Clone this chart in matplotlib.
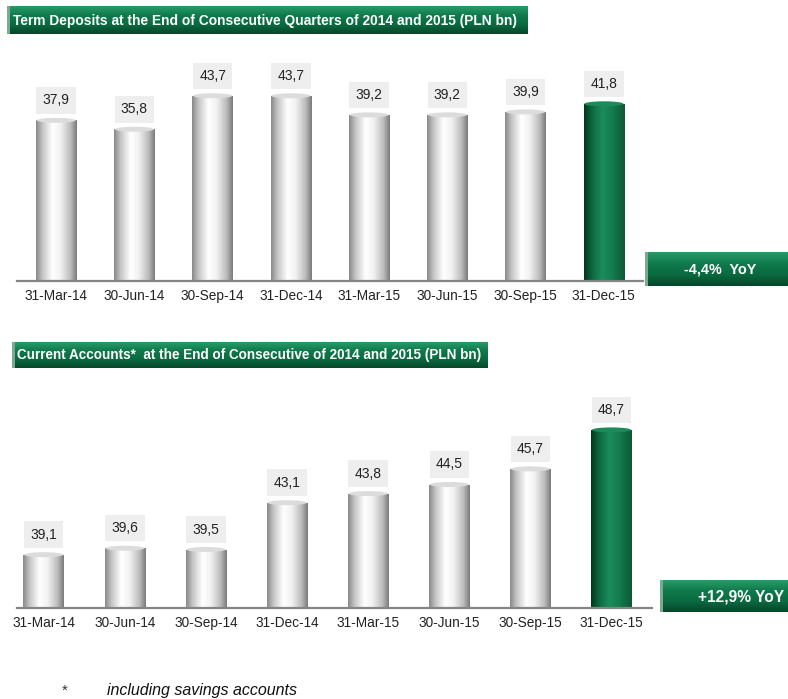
import matplotlib
matplotlib.use("Agg")
import matplotlib.pyplot as plt
import numpy as np
from matplotlib.colors import LinearSegmentedColormap
from matplotlib.patches import FancyBboxPatch, Rectangle, Ellipse

# data
dates = ["31-Mar-14", "30-Jun-14", "30-Sep-14", "31-Dec-14",
         "31-Mar-15", "30-Jun-15", "30-Sep-15", "31-Dec-15"]
term_deposits = [37.9, 35.8, 43.7, 43.7, 39.2, 39.2, 39.9, 41.8]
current_accounts = [39.1, 39.6, 39.5, 43.1, 43.8, 44.5, 45.7, 48.7]
term_title = "Term Deposits at the End of Consecutive Quarters of 2014 and 2015 (PLN bn)"
current_title = "Current Accounts*  at the End of Consecutive of 2014 and 2015 (PLN bn)"
term_yoy = "-4,4%  YoY"
current_yoy = "+12,9% YoY"
footnote = "including savings accounts"

FONT = ["Liberation Sans Narrow", "Liberation Sans", "DejaVu Sans"]
plt.rcParams["font.family"] = FONT

W, H = 788, 699
fig = plt.figure(figsize=(W / 100, H / 100), dpi=100)
renderer = fig.canvas.get_renderer()

gray_cmap = LinearSegmentedColormap.from_list("cyl_gray", [
    (0.0, "#8a8a8a"), (0.15, "#c4c4c4"), (0.4, "#ffffff"),
    (0.6, "#f2f2f2"), (0.85, "#bcbcbc"), (1.0, "#7c7c7c")])
green_cmap = LinearSegmentedColormap.from_list("cyl_green", [
    (0.0, "#05361e"), (0.2, "#0c6a3f"), (0.45, "#1b8c5c"),
    (0.7, "#147b4d"), (1.0, "#0a5a35")])
grad = np.linspace(0, 1, 64).reshape(1, -1)


def px_axes(left, top, right, bottom):
    # axes placed with pixel coordinates of the picture
    return fig.add_axes([left / W, 1 - bottom / H, (right - left) / W, (bottom - top) / H])


def fit_width(t, target_px):
    # shrink a text so that it spans about target_px (no narrow font installed)
    w = t.get_window_extent(renderer).width
    t.set_fontsize(t.get_fontsize() * target_px / w)


def cylinders(ax, values, ymin, ymax, width, cap_px):
    x = np.arange(len(values))
    bars = ax.bar(x, np.array(values) - ymin, bottom=ymin, width=width,
                  color="none", edgecolor="none")
    per_px = (ymax - ymin) / (ax.get_position().height * H)
    for i, b in enumerate(bars):
        cmap = green_cmap if i == len(values) - 1 else gray_cmap
        x0, w, top = b.get_x(), b.get_width(), b.get_y() + b.get_height()
        im = ax.imshow(grad, cmap=cmap, aspect="auto", extent=(x0, x0 + w, ymin, top),
                       zorder=2, interpolation="bilinear")
        im.set_clip_path(b)
        cap_col = "#1d8a5a" if i == len(values) - 1 else "#dcdcdc"
        ax.add_patch(Ellipse((x0 + w / 2, top), w * 0.96, cap_px * per_px,
                             facecolor=cap_col, edgecolor="none", zorder=3))
        ax.annotate(f"{values[i]:.1f}".replace(".", ","), (x0 + w / 2, top),
                    xytext=(0, 20), textcoords="offset pixels", ha="center", va="center",
                    fontsize=10, color="#222222",
                    bbox=dict(boxstyle="square,pad=0.45", facecolor="#eeeeee", edgecolor="none"))
    ax.set_ylim(ymin, ymax)
    ax.set_xticks(x)
    ax.set_xticklabels(dates, fontsize=9.8, color="#222222")
    ax.tick_params(axis="x", length=0, pad=6)
    ax.set_yticks([])
    for s in ["top", "right", "left"]:
        ax.spines[s].set_visible(False)
    ax.spines["bottom"].set_color("#858585")
    ax.spines["bottom"].set_linewidth(1.6)
    ax.patch.set_alpha(0)


# top chart
ax1 = px_axes(17, 50, 643, 281)
cylinders(ax1, term_deposits, 0, 54.5, 0.52, 5)
ax1.set_xlim(-0.5, 7.5)

# bottom chart
ax2 = px_axes(17, 400, 652, 608)
cylinders(ax2, current_accounts, 35, 51, 0.5, 5)
ax2.set_xlim(-0.33, 7.5)

# overlay for banners and notes, in pixel coordinates
ov = fig.add_axes([0, 0, 1, 1], zorder=5)
ov.axis("off")
ov.patch.set_alpha(0)

banner_cmap = LinearSegmentedColormap.from_list("banner", ["#2a9a68", "#0f7a4c", "#0a6a40", "#06472a"])
vgrad = np.linspace(0, 1, 64).reshape(-1, 1)


def banner(x0, y0, x1, y1, text, tx, fs, text_w=None, rounded=False):
    style = "round,pad=0,rounding_size=4" if rounded else "square,pad=0"
    box = FancyBboxPatch((x0, y0), x1 - x0, y1 - y0, boxstyle=style,
                         facecolor="none", edgecolor="none")
    ov.add_patch(box)
    im = ov.imshow(vgrad, cmap=banner_cmap, aspect="auto", extent=(x0, x1, y1, y0),
                   interpolation="bilinear", zorder=1)
    im.set_clip_path(box)
    edge = "#9cc4ae" if rounded else "#7fa893"
    ov.add_patch(Rectangle((x0, y0), 3, y1 - y0, facecolor=edge, edgecolor="none", zorder=2))
    if rounded:
        ov.add_patch(Rectangle((x0, y0), x1 - x0, 2, facecolor="#3aa874", edgecolor="none", zorder=2))
    t = ov.text(tx, (y0 + y1) / 2 + 0.5, text, color="white", fontsize=fs, fontweight="bold",
                ha="left", va="center", zorder=3)
    if text_w:
        fit_width(t, text_w)


banner(7, 6, 528, 34, term_title, 13, 11.5, text_w=508)
banner(12, 342, 488, 368, current_title, 17, 11.5, text_w=468)
banner(645, 252, 800, 286, term_yoy, 684, 11, text_w=72)
banner(660, 580, 800, 612, current_yoy, 698, 11, text_w=86)
ov.set_xlim(0, W)
ov.set_ylim(H, 0)

ov.text(65, 691, "*", fontsize=11, color="#333333", ha="center", va="center")
ov.text(107, 690, footnote, fontsize=11.5, style="italic", color="#111111", ha="left", va="center")

fig.savefig("out.png", dpi=100)
